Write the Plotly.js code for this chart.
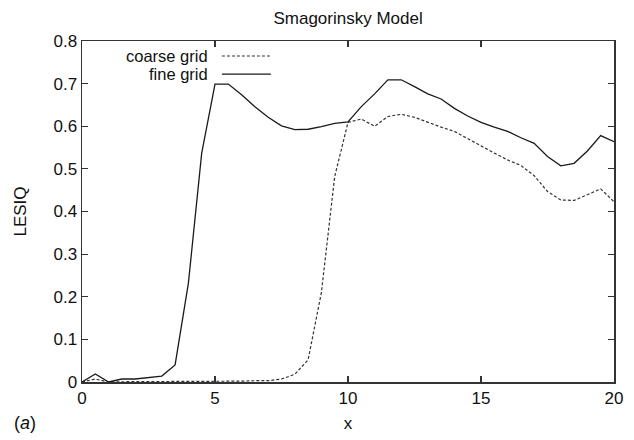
<!DOCTYPE html>
<html>
<head>
<meta charset="utf-8">
<script src="https://cdn.plot.ly/plotly-3.0.1.min.js"></script>
<style>html,body{margin:0;padding:0;background:#fff;}#chart{width:634px;height:440px;}</style>
</head>
<body>
<div id="chart"></div>
<script>
const xValues = [0, 0.5, 1, 1.5, 2, 2.5, 3, 3.5, 4, 4.5, 5, 5.5, 6, 6.5, 7, 7.5, 8, 8.5, 9, 9.5, 10,
  10.5, 11, 11.5, 12, 12.5, 13, 13.5, 14, 14.5, 15, 15.5, 16, 16.5, 17, 17.5, 18, 18.5, 19, 19.5, 20];
const coarseGrid = [0, 0.007, 0, 0.001, 0.001, 0.001, 0.001, 0.001, 0.001, 0.001, 0.001, 0.002, 0.002, 0.003, 0.003, 0.007, 0.018, 0.052, 0.21, 0.482, 0.609,
  0.617, 0.600, 0.623, 0.628, 0.621, 0.609, 0.598, 0.588, 0.570, 0.554, 0.537, 0.521, 0.508, 0.484, 0.447, 0.427, 0.426, 0.439, 0.453, 0.423];
const fineGrid = [0, 0.019, 0, 0.007, 0.007, 0.01, 0.014, 0.04, 0.232, 0.537, 0.699, 0.699, 0.674, 0.646, 0.621, 0.601, 0.592, 0.593, 0.599, 0.607, 0.610,
  0.646, 0.676, 0.709, 0.709, 0.693, 0.676, 0.664, 0.642, 0.624, 0.609, 0.598, 0.588, 0.573, 0.560, 0.529, 0.507, 0.513, 0.542, 0.578, 0.564];
const seriesNames = ['coarse grid', 'fine grid'];
const xTicks = [0, 5, 10, 15, 20];
const yTicks = [0, 0.1, 0.2, 0.3, 0.4, 0.5, 0.6, 0.7, 0.8];
const yTickLabels = ['0', '0.1', '0.2', '0.3', '0.4', '0.5', '0.6', '0.7', '0.8'];

const FONT = 'Liberation Sans, Arial, Helvetica, sans-serif';
const lineColor = '#1a1a1a';

const traces = [
  {x: xValues, y: coarseGrid, name: seriesNames[0], mode: 'lines', line: {color: '#333', width: 1.2, dash: '3px,2px'}},
  {x: xValues, y: fineGrid, name: seriesNames[1], mode: 'lines', line: {color: lineColor, width: 1.3}}
];

const axisCommon = {
  showgrid: false, zeroline: false, showline: true, mirror: 'allticks',
  linecolor: '#333', linewidth: 1.5, ticks: 'inside', ticklen: 6, tickcolor: '#333', tickwidth: 1.2,
  tickfont: {family: FONT, size: 17, color: '#111'}
};

// manual legend (text right-aligned, sample to the right)
const legY = [0.956, 0.903];
const annotations = seriesNames.map((n, i) => ({
  xref: 'paper', yref: 'paper', x: 0.2406, y: legY[i], xanchor: 'right', yanchor: 'middle',
  text: n, showarrow: false, font: {family: FONT, size: 16.5, color: '#111'}
}));
annotations.push({xref: 'paper', yref: 'paper', x: -0.107, y: -0.12, xanchor: 'center', yanchor: 'middle',
  text: '(<i>a</i>)', showarrow: false, font: {family: FONT, size: 18, color: '#111'}});

const shapes = [
  {type: 'line', xref: 'paper', yref: 'paper', x0: 0.263, x1: 0.355, y0: legY[0], y1: legY[0], line: {color: '#333', width: 1.2, dash: '3px,2px'}},
  {type: 'line', xref: 'paper', yref: 'paper', x0: 0.263, x1: 0.355, y0: legY[1], y1: legY[1], line: {color: lineColor, width: 1.3}}
];

const layout = {
  width: 634, height: 440,
  margin: {l: 82, r: 20, t: 41, b: 58},
  paper_bgcolor: '#fff', plot_bgcolor: '#fff',
  showlegend: false,
  title: {text: 'Smagorinsky Model', font: {family: FONT, size: 17, color: '#111'},
    x: 0.549, xanchor: 'center', xref: 'container', y: 0.959, yanchor: 'middle', yref: 'container'},
  xaxis: Object.assign({}, axisCommon, {range: [0, 20], tickvals: xTicks, ticktext: xTicks.map(String),
    title: {text: 'x', font: {family: FONT, size: 17, color: '#111'}, standoff: 10}}),
  yaxis: Object.assign({}, axisCommon, {range: [0, 0.8], tickvals: yTicks, ticktext: yTickLabels,
    title: {text: 'LESIQ', font: {family: FONT, size: 17, color: '#111'}, standoff: 22}}),
  annotations: annotations,
  shapes: shapes
};

Plotly.newPlot('chart', traces, layout, {displayModeBar: false, staticPlot: true});
</script>
</body>
</html>
